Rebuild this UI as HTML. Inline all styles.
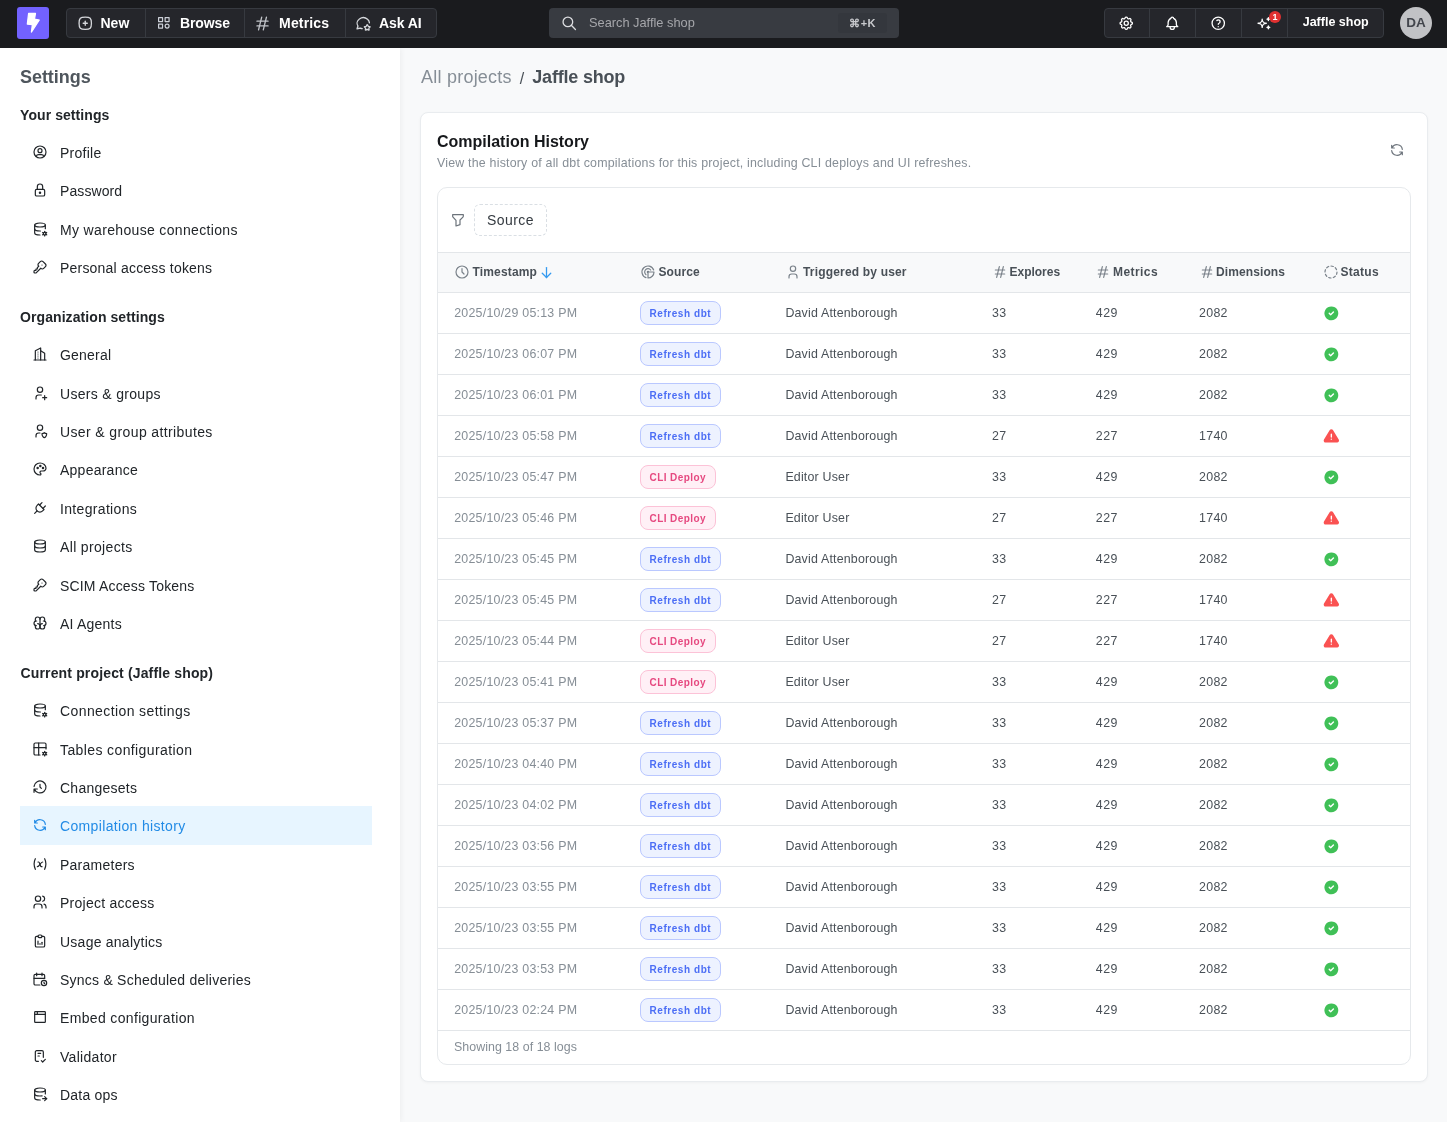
<!DOCTYPE html>
<html lang="en"><head><meta charset="utf-8"><title>Compilation history - Lightdash</title>
<style>
*{box-sizing:border-box;margin:0;padding:0}
html,body{width:1447px;height:1122px;overflow:hidden;background:#f8f9fa;font-family:"Liberation Sans",sans-serif;color:#212529}
svg{display:block}
/* NAV */
#nav{will-change:transform;position:absolute;left:0;top:0;width:1447px;height:48px;background:#1a1b1e;z-index:5}
#nav .logo{position:absolute;left:17px;top:7px;width:32px;height:32px;border-radius:3px;background:#7262ff}
#nav .grp{position:absolute;top:8px;height:30px;display:flex;border:1px solid #373a40;border-radius:4px;background:#25262b;overflow:hidden}
#nav .nb{position:relative;height:28px;border-right:1px solid #373a40;flex:none}
#nav .nb.last{border-right:0}
#nav .nb.ctr{display:flex;align-items:center;justify-content:center}
#nav .nb .ic{position:absolute;top:6px}
#nav .nb .t{position:absolute;top:0;line-height:28px;font-size:14px;font-weight:700;color:#fff;white-space:nowrap}
#nav .nb .t.js{font-size:12.5px;top:-1px}
#nav .dot{position:absolute;left:26.5px;top:1.5px;width:12px;height:12px;border-radius:6px;background:#e03131;color:#fff;font-size:9px;font-weight:700;line-height:12px;text-align:center}
#nav .search{position:absolute;left:549px;top:8px;width:350px;height:30px;border-radius:4px;background:#383b41}
#nav .search .sic{position:absolute;left:12px;top:7px}
#nav .search .st{position:absolute;left:40px;top:0;line-height:29px;font-size:12.8px;color:#a6a7ab;white-space:nowrap}
#nav .search .kbd{position:absolute;left:289px;top:5px;width:49px;height:20px;border-radius:3px;background:#34373d;color:#c9cace;font-size:11px;font-weight:700;line-height:20px;text-align:center;letter-spacing:.3px}
#nav .avatar{position:absolute;left:1400px;top:7px;width:32px;height:32px;border-radius:16px;background:#c1c2c5;color:#43464d;font-size:13.5px;font-weight:700;line-height:32px;text-align:center;letter-spacing:0}
/* SIDEBAR */
#side{will-change:transform;position:absolute;left:0;top:48px;width:400px;height:1074px;background:#fff;box-shadow:1px 0 6px rgba(0,0,0,.05);z-index:2}
#side .stitle{position:absolute;left:20px;top:18px;font-size:18px;font-weight:700;color:#4f565d;line-height:22px;letter-spacing:-.05px}
#side .sec{position:absolute;left:20px;font-size:14px;font-weight:700;color:#212529;line-height:38px;height:38px;white-space:nowrap;letter-spacing:.08px;margin-top:-48px}
#side .items{position:absolute;left:20px;width:352px;margin-top:-48px}
#side .it{position:relative;height:38.4px;color:#212529}
#side .it .ic{position:absolute;left:12px;top:10px}
#side .it .lb{position:absolute;left:40px;top:0;line-height:38.4px;font-size:14px;white-space:nowrap;letter-spacing:.2px}
#side .it.act{color:#228be6}
#side .actbg{position:absolute;left:20px;top:758px;width:352px;height:39px;background:#e7f5ff}
/* MAIN */
#main{will-change:transform;position:absolute;left:400px;top:48px;width:1047px;height:1074px;background:#f8f9fa}
#main .crumb{position:absolute;left:21px;top:17px;height:24px;line-height:24px;font-size:18px;white-space:nowrap}
#main .crumb .c1{color:#868e96;letter-spacing:.23px}
#main .crumb .sl{color:#495057;font-size:16px;margin:0 8px 0 8px;position:relative;top:1px}
#main .crumb .c2{color:#495057;font-weight:700;letter-spacing:-.19px}
#main .card{position:absolute;left:20px;top:64px;width:1008px;height:970px;background:#fff;border:1px solid #e9ecef;border-radius:8px;box-shadow:0 1px 3px rgba(0,0,0,.04)}
#main .ctitle{position:absolute;left:16px;top:18px;font-size:16px;font-weight:700;color:#16181b;line-height:22px;white-space:nowrap}
#main .csub{position:absolute;left:16px;top:42px;font-size:12.4px;color:#868e96;line-height:16px;white-space:nowrap;letter-spacing:.205px}
#main .rfr{position:absolute;left:968px;top:29px}
#main .tbl{position:absolute;left:16px;top:74px;width:974px;height:878px;border:1px solid #e6e9ec;border-radius:10px;overflow:hidden;background:#fff}
#main .frow{position:relative;height:64px}
#main .frow .fic{position:absolute;left:12px;top:24px}
#main .frow .fbtn{position:absolute;left:36px;top:16px;width:73px;height:32px;border:1px dashed #dadfe4;border-radius:6px;font-size:14px;line-height:30px;text-align:center;color:#343a40;letter-spacing:.45px}
#main .th{position:relative;height:41px;background:#f8f9fa;border-top:1px solid #e3e6e9;border-bottom:1px solid #e3e6e9}
#main .th .hi{position:absolute;top:11px}
#main .th .hl{position:absolute;top:0;line-height:39px;font-size:12px;font-weight:700;color:#495057;white-space:nowrap}
#main .th .arr{position:absolute;top:11px}
#main .tr{position:relative;height:41px;border-bottom:1px solid #e3e6e9}
#main .tr .c{position:absolute;top:0;height:40px;line-height:40px;font-size:12.4px;white-space:nowrap;color:#495057}
#main .tr .c1{left:16.2px;color:#868e96;letter-spacing:.24px}
#main .tr .c2{left:202px}
#main .tr .c3{left:347.4px;letter-spacing:.19px}
#main .tr .c4{left:554px;letter-spacing:.3px}
#main .tr .c5{left:657.8px;letter-spacing:.5px}
#main .tr .c6{left:761px;letter-spacing:.3px}
#main .tr .c7{left:884.6px;display:flex;align-items:center;height:40.6px}
#main .bd{display:inline-block;vertical-align:middle;height:24px;line-height:24px;padding:0 0 0 8.5px;border-radius:8px;font-size:10px;font-weight:700;letter-spacing:.56px;border:1px solid;position:relative;top:-.5px;white-space:nowrap}
#main .bd.br{background:#edf2ff;border-color:#bac8ff;color:#4c6ef5;width:81px}
#main .bd.bc{background:#fff0f6;border-color:#fcc2d7;color:#e64980;letter-spacing:.42px;width:76px}
#main .tf{height:34px;line-height:33px;padding-left:16px;font-size:12.4px;color:#868e96;letter-spacing:.05px}

</style></head>
<body>

<div id="nav">
  <div class="logo"><svg width="32" height="32" viewBox="0 0 32 32"><path d="M11.6 6.4L18.5 6.4L17.5 12.1L22.3 13L14.4 25.1L15.3 17.7L10.3 17.1Z" fill="#fff" stroke="#fff" stroke-width="1.2" stroke-linejoin="round"/></svg></div>
  <div class="grp" style="left:66px;width:371px">
    <div class="nb" style="width:78.5px"><span class="ic" style="left:9.5px"><svg width="16.5" height="16.5" viewBox="0 0 24 24" fill="none" stroke="#d5d7db" stroke-width="1.9" stroke-linecap="round" stroke-linejoin="round" ><path d="M12 3c7.2 0 9 1.8 9 9s-1.8 9 -9 9s-9 -1.8 -9 -9s1.8 -9 9 -9z"/><path d="M15 12h-6"/><path d="M12 9v6"/></svg></span><span class="t" style="left:33.5px">New</span></div>
    <div class="nb" style="width:99px"><span class="ic" style="left:10.6px;top:6.1px"><svg width="15.7" height="15.7" viewBox="0 0 24 24" fill="none" stroke="#ccd0d8" stroke-width="1.85" stroke-linecap="round" stroke-linejoin="round" ><path d="M4 4h6v6h-6z"/><path d="M14 4h6v6h-6z"/><path d="M4 14h6v6h-6z"/><path d="M17 17m-3 0a3 3 0 1 0 6 0a3 3 0 1 0 -6 0"/></svg></span><span class="t" style="left:34.5px;letter-spacing:-.12px">Browse</span></div>
    <div class="nb" style="width:101.5px"><span class="ic" style="left:8.5px;top:4.5px"><svg width="19" height="19" viewBox="0 0 24 24" fill="none" stroke="#c1c4c9" stroke-width="1.7" stroke-linecap="round" stroke-linejoin="round" ><path d="M5 9l14 0"/><path d="M5 15l14 0"/><path d="M11 4l-4 16"/><path d="M17 4l-4 16"/></svg></span><span class="t" style="left:34.6px;letter-spacing:.15px">Metrics</span></div>
    <div class="nb last" style="width:92px"><span class="ic" style="left:8.7px"><svg width="16.5" height="16.5" viewBox="0 0 24 24" fill="none" stroke="#d5d7db" stroke-width="1.9" stroke-linecap="round" stroke-linejoin="round" ><path d="M10.517 19.869a9.757 9.757 0 0 1 -2.817 -.869l-4.7 1l1.3 -3.9c-2.324 -3.437 -1.426 -7.872 2.1 -10.374c3.526 -2.501 8.59 -2.296 11.845 .48c1.666 1.421 2.594 3.29 2.747 5.21"/><path d="M17.8 20.817l-2.172 1.138a.392 .392 0 0 1 -.568 -.41l.415 -2.411l-1.757 -1.707a.389 .389 0 0 1 .217 -.665l2.428 -.352l1.086 -2.193a.392 .392 0 0 1 .702 0l1.086 2.193l2.428 .352a.39 .39 0 0 1 .217 .665l-1.757 1.707l.414 2.41a.39 .39 0 0 1 -.567 .411l-2.172 -1.138z"/></svg></span><span class="t" style="left:33px;letter-spacing:-.1px">Ask AI</span></div>
  </div>
  <div class="search"><span class="sic"><svg width="16.5" height="16.5" viewBox="0 0 24 24" fill="none" stroke="#dcdde0" stroke-width="1.9" stroke-linecap="round" stroke-linejoin="round" ><path d="M10 10m-7 0a7 7 0 1 0 14 0a7 7 0 1 0 -14 0"/><path d="M21 21l-6 -6"/></svg></span><span class="st">Search Jaffle shop</span><span class="kbd">&#8984;+K</span></div>
  <div class="grp" style="left:1104px;width:280px">
    <div class="nb ctr" style="width:45.4px;padding-right:1.5px"><svg width="16.5" height="16.5" viewBox="0 0 24 24" fill="none" stroke="#fff" stroke-width="1.9" stroke-linecap="round" stroke-linejoin="round" ><path d="M10.325 4.317c.426 -1.756 2.924 -1.756 3.35 0a1.724 1.724 0 0 0 2.573 1.066c1.543 -.94 3.31 .826 2.37 2.37a1.724 1.724 0 0 0 1.065 2.572c1.756 .426 1.756 2.924 0 3.35a1.724 1.724 0 0 0 -1.066 2.573c.94 1.543 -.826 3.31 -2.37 2.37a1.724 1.724 0 0 0 -2.572 1.065c-.426 1.756 -2.924 1.756 -3.35 0a1.724 1.724 0 0 0 -2.573 -1.066c-1.543 .94 -3.31 -.826 -2.37 -2.37a1.724 1.724 0 0 0 -1.065 -2.572c-1.756 -.426 -1.756 -2.924 0 -3.35a1.724 1.724 0 0 0 1.066 -2.573c-.94 -1.543 .826 -3.31 2.37 -2.37c1 .608 2.296 .07 2.572 -1.065z"/><path d="M9 12a3 3 0 1 0 6 0a3 3 0 0 0 -6 0"/></svg></div>
    <div class="nb ctr" style="width:46px;padding-right:1.5px"><svg width="16.5" height="16.5" viewBox="0 0 24 24" fill="none" stroke="#fff" stroke-width="1.9" stroke-linecap="round" stroke-linejoin="round" ><path d="M10 5a2 2 0 1 1 4 0a7 7 0 0 1 4 6v3a4 4 0 0 0 2 3h-16a4 4 0 0 0 2 -3v-3a7 7 0 0 1 4 -6"/><path d="M9 17v1a3 3 0 0 0 6 0v-1"/></svg></div>
    <div class="nb ctr" style="width:46px;padding-right:1.5px"><svg width="16.5" height="16.5" viewBox="0 0 24 24" fill="none" stroke="#fff" stroke-width="1.9" stroke-linecap="round" stroke-linejoin="round" ><path d="M12 12m-9 0a9 9 0 1 0 18 0a9 9 0 1 0 -18 0"/><path d="M12 17l0 .01"/><path d="M12 13.5a1.5 1.5 0 0 1 1 -1.5a2.6 2.6 0 1 0 -3 -4"/></svg></div>
    <div class="nb ctr" style="width:46px;padding-right:1.5px"><svg width="16.5" height="16.5" viewBox="0 0 24 24" fill="none" stroke="#fff" stroke-width="1.9" stroke-linecap="round" stroke-linejoin="round" ><path d="M16 18a2 2 0 0 1 2 2a2 2 0 0 1 2 -2a2 2 0 0 1 -2 -2a2 2 0 0 1 -2 2zm0 -12a2 2 0 0 1 2 2a2 2 0 0 1 2 -2a2 2 0 0 1 -2 -2a2 2 0 0 1 -2 2zm-7 12a6 6 0 0 1 6 -6a6 6 0 0 1 -6 -6a6 6 0 0 1 -6 6a6 6 0 0 1 6 6z"/></svg><span class="dot">1</span></div>
    <div class="nb last" style="width:96px"><span class="t js" style="left:14.3px">Jaffle shop</span></div>
  </div>
  <div class="avatar">DA</div>
</div>


<div id="side">
  <div class="stitle">Settings</div>
  <div class="sec" style="top:96px">Your settings</div>
  <div class="items" style="top:134px">
    <div class="it"><span class="ic"><svg width="16" height="16" viewBox="0 0 24 24" fill="none" stroke="currentColor" stroke-width="1.8" stroke-linecap="round" stroke-linejoin="round" ><path d="M12 12m-9 0a9 9 0 1 0 18 0a9 9 0 1 0 -18 0"/><path d="M12 10m-3 0a3 3 0 1 0 6 0a3 3 0 1 0 -6 0"/><path d="M6.168 18.849a4 4 0 0 1 3.832 -2.849h4a4 4 0 0 1 3.834 2.855"/></svg></span><span class="lb" style="letter-spacing:0.267px">Profile</span></div>
    <div class="it"><span class="ic"><svg width="16" height="16" viewBox="0 0 24 24" fill="none" stroke="currentColor" stroke-width="1.8" stroke-linecap="round" stroke-linejoin="round" ><path d="M5 13a2 2 0 0 1 2 -2h10a2 2 0 0 1 2 2v6a2 2 0 0 1 -2 2h-10a2 2 0 0 1 -2 -2v-6z"/><path d="M11 16a1 1 0 1 0 2 0a1 1 0 0 0 -2 0"/><path d="M8 11v-4a4 4 0 1 1 8 0v4"/></svg></span><span class="lb" style="letter-spacing:0.086px">Password</span></div>
    <div class="it"><span class="ic"><svg width="16" height="16" viewBox="0 0 24 24" fill="none" stroke="currentColor" stroke-width="1.8" stroke-linecap="round" stroke-linejoin="round" ><path d="M4 6c0 1.657 3.582 3 8 3s8 -1.343 8 -3s-3.582 -3 -8 -3s-8 1.343 -8 3"/><path d="M4 6v6c0 1.657 3.582 3 8 3c.21 0 .42 -.003 .626 -.01"/><path d="M20 11.5v-5.5"/><path d="M4 12v6c0 1.657 3.582 3 8 3"/><path d="M19.001 19m-2 0a2 2 0 1 0 4 0a2 2 0 1 0 -4 0"/><path d="M19.001 15.5v1.5"/><path d="M19.001 21v1.5"/><path d="M22.032 17.25l-1.299 .75"/><path d="M17.27 20l-1.3 .75"/><path d="M15.97 17.25l1.3 .75"/><path d="M20.733 20l1.3 .75"/></svg></span><span class="lb" style="letter-spacing:0.339px">My warehouse connections</span></div>
    <div class="it"><span class="ic"><svg width="16" height="16" viewBox="0 0 24 24" fill="none" stroke="currentColor" stroke-width="1.8" stroke-linecap="round" stroke-linejoin="round" ><path d="M16.555 3.843l3.602 3.602a2.877 2.877 0 0 1 0 4.069l-2.643 2.643a2.877 2.877 0 0 1 -4.069 0l-.301 -.301l-6.558 6.558a2 2 0 0 1 -1.239 .578l-.175 .008h-1.172a1 1 0 0 1 -.993 -.883l-.007 -.117v-1.172a2 2 0 0 1 .467 -1.284l.119 -.13l.414 -.414h2v-2h2v-2l2.144 -2.144l-.301 -.301a2.877 2.877 0 0 1 0 -4.069l2.643 -2.643a2.877 2.877 0 0 1 4.069 0z"/><path d="M15 9h.01"/></svg></span><span class="lb" style="letter-spacing:0.2px">Personal access tokens</span></div>
  </div>
  <div class="sec" style="top:298px">Organization settings</div>
  <div class="items" style="top:336.2px">
    <div class="it"><span class="ic"><svg width="16" height="16" viewBox="0 0 24 24" fill="none" stroke="currentColor" stroke-width="1.8" stroke-linecap="round" stroke-linejoin="round" ><path d="M3 21l18 0"/><path d="M5 21v-14l8 -4v18"/><path d="M19 21v-10l-6 -4"/><path d="M9 9l0 .01"/><path d="M9 12l0 .01"/><path d="M9 15l0 .01"/><path d="M9 18l0 .01"/></svg></span><span class="lb" style="letter-spacing:0.2px">General</span></div>
    <div class="it"><span class="ic"><svg width="16" height="16" viewBox="0 0 24 24" fill="none" stroke="currentColor" stroke-width="1.8" stroke-linecap="round" stroke-linejoin="round" ><path d="M8 7a4 4 0 1 0 8 0a4 4 0 0 0 -8 0"/><path d="M16 19h6"/><path d="M19 16v6"/><path d="M6 21v-2a4 4 0 0 1 4 -4h4"/></svg></span><span class="lb" style="letter-spacing:0.308px">Users &amp; groups</span></div>
    <div class="it"><span class="ic"><svg width="16" height="16" viewBox="0 0 24 24" fill="none" stroke="currentColor" stroke-width="1.8" stroke-linecap="round" stroke-linejoin="round" ><path d="M6 21v-2a4 4 0 0 1 4 -4h2"/><path d="M22 16c0 4 -2.5 6 -3.5 6s-3.5 -2 -3.5 -6c1 0 2.5 -.5 3.5 -1.5c1 1 2.5 1.5 3.5 1.5z"/><path d="M8 7a4 4 0 1 0 8 0a4 4 0 0 0 -8 0"/></svg></span><span class="lb" style="letter-spacing:0.382px">User &amp; group attributes</span></div>
    <div class="it"><span class="ic"><svg width="16" height="16" viewBox="0 0 24 24" fill="none" stroke="currentColor" stroke-width="1.8" stroke-linecap="round" stroke-linejoin="round" ><path d="M12 21a9 9 0 0 1 0 -18c4.97 0 9 3.582 9 8c0 1.06 -.474 2.078 -1.318 2.828c-.844 .75 -1.989 1.172 -3.182 1.172h-2.5a2 2 0 0 0 -1 3.75a1.3 1.3 0 0 1 -1 2.25"/><path d="M8.5 10.5m-1 0a1 1 0 1 0 2 0a1 1 0 1 0 -2 0"/><path d="M12.5 7.5m-1 0a1 1 0 1 0 2 0a1 1 0 1 0 -2 0"/><path d="M16.5 10.5m-1 0a1 1 0 1 0 2 0a1 1 0 1 0 -2 0"/></svg></span><span class="lb" style="letter-spacing:0.245px">Appearance</span></div>
    <div class="it"><span class="ic"><svg width="16" height="16" viewBox="0 0 24 24" fill="none" stroke="currentColor" stroke-width="1.8" stroke-linecap="round" stroke-linejoin="round" ><path d="M9.785 6l8.215 8.215l-2.054 2.054a5.81 5.81 0 1 1 -8.215 -8.215l2.054 -2.054z"/><path d="M4 20l3.5 -3.5"/><path d="M15 4l-3.5 3.5"/><path d="M20 9l-3.5 3.5"/></svg></span><span class="lb" style="letter-spacing:0.328px">Integrations</span></div>
    <div class="it"><span class="ic"><svg width="16" height="16" viewBox="0 0 24 24" fill="none" stroke="currentColor" stroke-width="1.8" stroke-linecap="round" stroke-linejoin="round" ><path d="M12 6m-8 0a8 3 0 1 0 16 0a8 3 0 1 0 -16 0"/><path d="M4 6v6a8 3 0 0 0 16 0v-6"/><path d="M4 12v6a8 3 0 0 0 16 0v-6"/></svg></span><span class="lb" style="letter-spacing:0.345px">All projects</span></div>
    <div class="it"><span class="ic"><svg width="16" height="16" viewBox="0 0 24 24" fill="none" stroke="currentColor" stroke-width="1.8" stroke-linecap="round" stroke-linejoin="round" ><path d="M16.555 3.843l3.602 3.602a2.877 2.877 0 0 1 0 4.069l-2.643 2.643a2.877 2.877 0 0 1 -4.069 0l-.301 -.301l-6.558 6.558a2 2 0 0 1 -1.239 .578l-.175 .008h-1.172a1 1 0 0 1 -.993 -.883l-.007 -.117v-1.172a2 2 0 0 1 .467 -1.284l.119 -.13l.414 -.414h2v-2h2v-2l2.144 -2.144l-.301 -.301a2.877 2.877 0 0 1 0 -4.069l2.643 -2.643a2.877 2.877 0 0 1 4.069 0z"/><path d="M15 9h.01"/></svg></span><span class="lb" style="letter-spacing:0.176px">SCIM Access Tokens</span></div>
    <div class="it"><span class="ic"><svg width="16" height="16" viewBox="0 0 24 24" fill="none" stroke="currentColor" stroke-width="1.8" stroke-linecap="round" stroke-linejoin="round" ><path d="M15.5 13a3.5 3.5 0 0 0 -3.5 3.5v1a3.5 3.5 0 0 0 7 0v-1.8"/><path d="M8.5 13a3.5 3.5 0 0 1 3.5 3.5v1a3.5 3.5 0 0 1 -7 0v-1.8"/><path d="M17.5 16a3.5 3.5 0 0 0 0 -7h-.5"/><path d="M19 9.3v-2.8a3.5 3.5 0 0 0 -7 0"/><path d="M6.5 16a3.5 3.5 0 0 1 0 -7h.5"/><path d="M5 9.3v-2.8a3.5 3.5 0 0 1 7 0v10"/></svg></span><span class="lb" style="letter-spacing:0.225px">AI Agents</span></div>
  </div>
  <div class="sec" style="top:654px;left:20.5px;letter-spacing:.15px">Current project (Jaffle shop)</div>
  <div class="actbg"></div>
  <div class="items" style="top:692.2px">
    <div class="it"><span class="ic"><svg width="16" height="16" viewBox="0 0 24 24" fill="none" stroke="currentColor" stroke-width="1.8" stroke-linecap="round" stroke-linejoin="round" ><path d="M4 6c0 1.657 3.582 3 8 3s8 -1.343 8 -3s-3.582 -3 -8 -3s-8 1.343 -8 3"/><path d="M4 6v6c0 1.657 3.582 3 8 3c.21 0 .42 -.003 .626 -.01"/><path d="M20 11.5v-5.5"/><path d="M4 12v6c0 1.657 3.582 3 8 3"/><path d="M19.001 19m-2 0a2 2 0 1 0 4 0a2 2 0 1 0 -4 0"/><path d="M19.001 15.5v1.5"/><path d="M19.001 21v1.5"/><path d="M22.032 17.25l-1.299 .75"/><path d="M17.27 20l-1.3 .75"/><path d="M15.97 17.25l1.3 .75"/><path d="M20.733 20l1.3 .75"/></svg></span><span class="lb" style="letter-spacing:0.4px">Connection settings</span></div>
    <div class="it"><span class="ic"><svg width="16" height="16" viewBox="0 0 24 24" fill="none" stroke="currentColor" stroke-width="1.8" stroke-linecap="round" stroke-linejoin="round" ><path d="M12 21h-7a2 2 0 0 1 -2 -2v-14a2 2 0 0 1 2 -2h14a2 2 0 0 1 2 2v7"/><path d="M3 10h18"/><path d="M10 3v18"/><path d="M19.001 19m-2 0a2 2 0 1 0 4 0a2 2 0 1 0 -4 0"/><path d="M19.001 15.5v1.5"/><path d="M19.001 21v1.5"/><path d="M22.032 17.25l-1.299 .75"/><path d="M17.27 20l-1.3 .75"/><path d="M15.97 17.25l1.3 .75"/><path d="M20.733 20l1.3 .75"/></svg></span><span class="lb" style="letter-spacing:0.389px">Tables configuration</span></div>
    <div class="it"><span class="ic"><svg width="16" height="16" viewBox="0 0 24 24" fill="none" stroke="currentColor" stroke-width="1.8" stroke-linecap="round" stroke-linejoin="round" ><path d="M12 8l0 4l2 2"/><path d="M3.05 11a9 9 0 1 1 .5 4m-.5 5v-5h5"/></svg></span><span class="lb" style="letter-spacing:0.245px">Changesets</span></div>
    <div class="it act"><span class="ic"><svg width="16" height="16" viewBox="0 0 24 24" fill="none" stroke="currentColor" stroke-width="1.8" stroke-linecap="round" stroke-linejoin="round" ><path d="M20 11a8.1 8.1 0 0 0 -15.5 -2m-.5 -4v4h4"/><path d="M4 13a8.1 8.1 0 0 0 15.5 2m.5 4v-4h-4"/></svg></span><span class="lb" style="letter-spacing:0.344px">Compilation history</span></div>
    <div class="it"><span class="ic"><svg width="16" height="16" viewBox="0 0 24 24" fill="none" stroke="currentColor" stroke-width="1.8" stroke-linecap="round" stroke-linejoin="round" ><path d="M5 4c-2.5 5 -2.5 10 0 16m14 -16c2.5 5 2.5 10 0 16m-10 -11h1c1 0 1 1 2.016 3.527c.984 2.473 .984 3.473 1.984 3.473h1"/><path d="M8 16c1.5 0 3 -2 4 -3.5s2.5 -3.5 4 -3.5"/></svg></span><span class="lb" style="letter-spacing:0.245px">Parameters</span></div>
    <div class="it"><span class="ic"><svg width="16" height="16" viewBox="0 0 24 24" fill="none" stroke="currentColor" stroke-width="1.8" stroke-linecap="round" stroke-linejoin="round" ><path d="M9 7m-4 0a4 4 0 1 0 8 0a4 4 0 1 0 -8 0"/><path d="M3 21v-2a4 4 0 0 1 4 -4h4a4 4 0 0 1 4 4v2"/><path d="M16 3.13a4 4 0 0 1 0 7.75"/><path d="M21 21v-2a4 4 0 0 0 -3 -3.85"/></svg></span><span class="lb" style="letter-spacing:0.246px">Project access</span></div>
    <div class="it"><span class="ic"><svg width="16" height="16" viewBox="0 0 24 24" fill="none" stroke="currentColor" stroke-width="1.8" stroke-linecap="round" stroke-linejoin="round" ><path d="M9 5h-2a2 2 0 0 0 -2 2v12a2 2 0 0 0 2 2h10a2 2 0 0 0 2 -2v-12a2 2 0 0 0 -2 -2h-2"/><path d="M9 3m0 2a2 2 0 0 1 2 -2h2a2 2 0 0 1 2 2v0a2 2 0 0 1 -2 2h-2a2 2 0 0 1 -2 -2z"/><path d="M9 17v-5"/><path d="M12 17v-1"/><path d="M15 17v-3"/></svg></span><span class="lb" style="letter-spacing:0.243px">Usage analytics</span></div>
    <div class="it"><span class="ic"><svg width="16" height="16" viewBox="0 0 24 24" fill="none" stroke="currentColor" stroke-width="1.8" stroke-linecap="round" stroke-linejoin="round" ><path d="M11.795 21h-6.795a2 2 0 0 1 -2 -2v-12a2 2 0 0 1 2 -2h12a2 2 0 0 1 2 2v4"/><path d="M18 18m-4 0a4 4 0 1 0 8 0a4 4 0 1 0 -8 0"/><path d="M15 3v4"/><path d="M7 3v4"/><path d="M3 11h16"/><path d="M18 16.496v1.504l1 1"/></svg></span><span class="lb" style="letter-spacing:0.23px">Syncs &amp; Scheduled deliveries</span></div>
    <div class="it"><span class="ic"><svg width="16" height="16" viewBox="0 0 24 24" fill="none" stroke="currentColor" stroke-width="1.8" stroke-linecap="round" stroke-linejoin="round" ><path d="M4 4m0 1a1 1 0 0 1 1 -1h14a1 1 0 0 1 1 1v14a1 1 0 0 1 -1 1h-14a1 1 0 0 1 -1 -1z"/><path d="M4 8l16 0"/><path d="M8 4l0 4"/></svg></span><span class="lb" style="letter-spacing:0.344px">Embed configuration</span></div>
    <div class="it"><span class="ic"><svg width="16" height="16" viewBox="0 0 24 24" fill="none" stroke="currentColor" stroke-width="1.8" stroke-linecap="round" stroke-linejoin="round" ><path d="M9.615 20h-2.615a2 2 0 0 1 -2 -2v-12a2 2 0 0 1 2 -2h8a2 2 0 0 1 2 2v8"/><path d="M14 19l2 2l4 -4"/><path d="M9 8h4"/><path d="M9 12h2"/></svg></span><span class="lb" style="letter-spacing:0.299px">Validator</span></div>
    <div class="it"><span class="ic"><svg width="16" height="16" viewBox="0 0 24 24" fill="none" stroke="currentColor" stroke-width="1.8" stroke-linecap="round" stroke-linejoin="round" ><path d="M4 6c0 1.657 3.582 3 8 3s8 -1.343 8 -3s-3.582 -3 -8 -3s-8 1.343 -8 3"/><path d="M4 6v6c0 1.657 3.582 3 8 3c1.118 0 2.183 -.086 3.15 -.241"/><path d="M20 12v-6"/><path d="M4 12v6c0 1.657 3.582 3 8 3c.157 0 .312 -.002 .466 -.005"/><path d="M16 19h6"/><path d="M19 16l3 3l-3 3"/></svg></span><span class="lb" style="letter-spacing:0.2px">Data ops</span></div>
  </div>
</div>


<div id="main">
  <div class="crumb"><span class="c1">All projects</span><span class="sl">/</span><span class="c2">Jaffle shop</span></div>
  <div class="card">
    <div class="ctitle">Compilation History</div>
    <div class="csub">View the history of all dbt compilations for this project, including CLI deploys and UI refreshes.</div>
    <div class="rfr"><svg width="16" height="16" viewBox="0 0 24 24" fill="none" stroke="#6f767e" stroke-width="1.8" stroke-linecap="round" stroke-linejoin="round" ><path d="M20 11a8.1 8.1 0 0 0 -15.5 -2m-.5 -4v4h4"/><path d="M4 13a8.1 8.1 0 0 0 15.5 2m.5 4v-4h-4"/></svg></div>
    <div class="tbl">
      <div class="frow"><span class="fic"><svg width="16" height="16" viewBox="0 0 24 24" fill="none" stroke="#6c737b" stroke-width="1.8" stroke-linecap="round" stroke-linejoin="round" ><path d="M4 4h16v2.172a2 2 0 0 1 -.586 1.414l-4.414 4.414v7l-6 2v-8.5l-4.48 -4.928a2 2 0 0 1 -.52 -1.345v-2.227z"/></svg></span><span class="fbtn">Source</span></div>
      <div class="th">
        <span class="hi" style="left:16.0px"><svg width="16" height="16" viewBox="0 0 24 24" fill="none" stroke="#7a828a" stroke-width="1.8" stroke-linecap="round" stroke-linejoin="round" ><path d="M3 12a9 9 0 1 0 18 0a9 9 0 0 0 -18 0"/><path d="M12 7v5l3 3"/></svg></span><b class="hl" style="left:34.5px;letter-spacing:0.16px">Timestamp</b><span class="arr" style="left:100.29999999999995px"><svg width="17" height="17" viewBox="0 0 24 24" fill="none" stroke="#339af0" stroke-width="1.8" stroke-linecap="round" stroke-linejoin="round" ><path d="M12 5l0 14"/><path d="M18 13l-6 6"/><path d="M6 13l6 6"/></svg></span><span class="hi" style="left:202.0px"><svg width="16" height="16" viewBox="0 0 24 24" fill="none" stroke="#7a828a" stroke-width="1.8" stroke-linecap="round" stroke-linejoin="round" ><path d="M21 12h-8a1 1 0 1 0 -1 1v8a9 9 0 0 0 9 -9"/><path d="M16 9a5 5 0 1 0 -7 7"/><path d="M20.486 9a9 9 0 1 0 -11.482 11.495"/></svg></span><b class="hl" style="left:220.5px;letter-spacing:0.1px">Source</b><span class="hi" style="left:347.0px"><svg width="16" height="16" viewBox="0 0 24 24" fill="none" stroke="#7a828a" stroke-width="1.8" stroke-linecap="round" stroke-linejoin="round" ><path d="M8 7a4 4 0 1 0 8 0a4 4 0 0 0 -8 0"/><path d="M6 21v-2a4 4 0 0 1 4 -4h4a4 4 0 0 1 4 4v2"/></svg></span><b class="hl" style="left:365.0px;letter-spacing:0.175px">Triggered by user</b><span class="hi" style="left:554.0px"><svg width="16" height="16" viewBox="0 0 24 24" fill="none" stroke="#7a828a" stroke-width="1.8" stroke-linecap="round" stroke-linejoin="round" ><path d="M5 9l14 0"/><path d="M5 15l14 0"/><path d="M11 4l-4 16"/><path d="M17 4l-4 16"/></svg></span><b class="hl" style="left:571.5px;letter-spacing:-0.01px">Explores</b><span class="hi" style="left:657.0px"><svg width="16" height="16" viewBox="0 0 24 24" fill="none" stroke="#7a828a" stroke-width="1.8" stroke-linecap="round" stroke-linejoin="round" ><path d="M5 9l14 0"/><path d="M5 15l14 0"/><path d="M11 4l-4 16"/><path d="M17 4l-4 16"/></svg></span><b class="hl" style="left:675.0px;letter-spacing:0.43px">Metrics</b><span class="hi" style="left:760.5px"><svg width="16" height="16" viewBox="0 0 24 24" fill="none" stroke="#7a828a" stroke-width="1.8" stroke-linecap="round" stroke-linejoin="round" ><path d="M5 9l14 0"/><path d="M5 15l14 0"/><path d="M11 4l-4 16"/><path d="M17 4l-4 16"/></svg></span><b class="hl" style="left:778.0px;letter-spacing:0.1px">Dimensions</b><span class="hi" style="left:885.0px"><svg width="16" height="16" viewBox="0 0 24 24" fill="none" stroke="#7a828a" stroke-width="1.8" stroke-linecap="round" stroke-linejoin="round" ><path d="M8.56 3.69a9 9 0 0 0 -2.92 1.95"/><path d="M3.69 8.56a9 9 0 0 0 -.69 3.44"/><path d="M3.69 15.44a9 9 0 0 0 1.95 2.92"/><path d="M8.56 20.31a9 9 0 0 0 3.44 .69"/><path d="M15.44 20.31a9 9 0 0 0 2.92 -1.95"/><path d="M20.31 15.44a9 9 0 0 0 .69 -3.44"/><path d="M20.31 8.56a9 9 0 0 0 -1.95 -2.92"/><path d="M15.44 3.69a9 9 0 0 0 -3.44 -.69"/></svg></span><b class="hl" style="left:902.5px;letter-spacing:0.3px">Status</b>
      </div>
      <div class="tr"><span class="c c1">2025/10/29 05:13 PM</span><span class="c c2"><span class="bd br">Refresh dbt</span></span><span class="c c3">David Attenborough</span><span class="c c4">33</span><span class="c c5">429</span><span class="c c6">2082</span><span class="c c7"><svg width="16.7" height="16.7" viewBox="0 0 24 24" fill="#40c057" stroke="none"><path d="M17 3.34a10 10 0 1 1 -14.995 8.984l-.005 -.324l.005 -.324a10 10 0 0 1 14.995 -8.336zm-1.293 5.953a1 1 0 0 0 -1.32 -.083l-.094 .083l-3.293 3.292l-1.293 -1.292l-.094 -.083a1 1 0 0 0 -1.403 1.403l.083 .094l2 2l.094 .083a1 1 0 0 0 1.226 0l.094 -.083l4 -4l.083 -.094a1 1 0 0 0 -.083 -1.32z"/></svg></span></div><div class="tr"><span class="c c1">2025/10/23 06:07 PM</span><span class="c c2"><span class="bd br">Refresh dbt</span></span><span class="c c3">David Attenborough</span><span class="c c4">33</span><span class="c c5">429</span><span class="c c6">2082</span><span class="c c7"><svg width="16.7" height="16.7" viewBox="0 0 24 24" fill="#40c057" stroke="none"><path d="M17 3.34a10 10 0 1 1 -14.995 8.984l-.005 -.324l.005 -.324a10 10 0 0 1 14.995 -8.336zm-1.293 5.953a1 1 0 0 0 -1.32 -.083l-.094 .083l-3.293 3.292l-1.293 -1.292l-.094 -.083a1 1 0 0 0 -1.403 1.403l.083 .094l2 2l.094 .083a1 1 0 0 0 1.226 0l.094 -.083l4 -4l.083 -.094a1 1 0 0 0 -.083 -1.32z"/></svg></span></div><div class="tr"><span class="c c1">2025/10/23 06:01 PM</span><span class="c c2"><span class="bd br">Refresh dbt</span></span><span class="c c3">David Attenborough</span><span class="c c4">33</span><span class="c c5">429</span><span class="c c6">2082</span><span class="c c7"><svg width="16.7" height="16.7" viewBox="0 0 24 24" fill="#40c057" stroke="none"><path d="M17 3.34a10 10 0 1 1 -14.995 8.984l-.005 -.324l.005 -.324a10 10 0 0 1 14.995 -8.336zm-1.293 5.953a1 1 0 0 0 -1.32 -.083l-.094 .083l-3.293 3.292l-1.293 -1.292l-.094 -.083a1 1 0 0 0 -1.403 1.403l.083 .094l2 2l.094 .083a1 1 0 0 0 1.226 0l.094 -.083l4 -4l.083 -.094a1 1 0 0 0 -.083 -1.32z"/></svg></span></div><div class="tr"><span class="c c1">2025/10/23 05:58 PM</span><span class="c c2"><span class="bd br">Refresh dbt</span></span><span class="c c3">David Attenborough</span><span class="c c4">27</span><span class="c c5">227</span><span class="c c6">1740</span><span class="c c7"><svg width="16.7" height="16.7" viewBox="0 0 24 24" fill="#fa5252" stroke="none"><path d="M12 1.67c.955 0 1.845 .467 2.39 1.247l.105 .16l8.114 13.548a2.914 2.914 0 0 1 -2.307 4.363l-.195 .008h-16.225a2.914 2.914 0 0 1 -2.582 -4.2l.099 -.185l8.11 -13.538a2.914 2.914 0 0 1 2.491 -1.403zm.01 13.33l-.127 .007a1 1 0 0 0 0 1.986l.117 .007l.127 -.007a1 1 0 0 0 0 -1.986l-.117 -.007zm-.01 -7a1 1 0 0 0 -.993 .883l-.007 .117v4l.007 .117a1 1 0 0 0 1.986 0l.007 -.117v-4l-.007 -.117a1 1 0 0 0 -.993 -.883z"/></svg></span></div><div class="tr"><span class="c c1">2025/10/23 05:47 PM</span><span class="c c2"><span class="bd bc">CLI Deploy</span></span><span class="c c3">Editor User</span><span class="c c4">33</span><span class="c c5">429</span><span class="c c6">2082</span><span class="c c7"><svg width="16.7" height="16.7" viewBox="0 0 24 24" fill="#40c057" stroke="none"><path d="M17 3.34a10 10 0 1 1 -14.995 8.984l-.005 -.324l.005 -.324a10 10 0 0 1 14.995 -8.336zm-1.293 5.953a1 1 0 0 0 -1.32 -.083l-.094 .083l-3.293 3.292l-1.293 -1.292l-.094 -.083a1 1 0 0 0 -1.403 1.403l.083 .094l2 2l.094 .083a1 1 0 0 0 1.226 0l.094 -.083l4 -4l.083 -.094a1 1 0 0 0 -.083 -1.32z"/></svg></span></div><div class="tr"><span class="c c1">2025/10/23 05:46 PM</span><span class="c c2"><span class="bd bc">CLI Deploy</span></span><span class="c c3">Editor User</span><span class="c c4">27</span><span class="c c5">227</span><span class="c c6">1740</span><span class="c c7"><svg width="16.7" height="16.7" viewBox="0 0 24 24" fill="#fa5252" stroke="none"><path d="M12 1.67c.955 0 1.845 .467 2.39 1.247l.105 .16l8.114 13.548a2.914 2.914 0 0 1 -2.307 4.363l-.195 .008h-16.225a2.914 2.914 0 0 1 -2.582 -4.2l.099 -.185l8.11 -13.538a2.914 2.914 0 0 1 2.491 -1.403zm.01 13.33l-.127 .007a1 1 0 0 0 0 1.986l.117 .007l.127 -.007a1 1 0 0 0 0 -1.986l-.117 -.007zm-.01 -7a1 1 0 0 0 -.993 .883l-.007 .117v4l.007 .117a1 1 0 0 0 1.986 0l.007 -.117v-4l-.007 -.117a1 1 0 0 0 -.993 -.883z"/></svg></span></div><div class="tr"><span class="c c1">2025/10/23 05:45 PM</span><span class="c c2"><span class="bd br">Refresh dbt</span></span><span class="c c3">David Attenborough</span><span class="c c4">33</span><span class="c c5">429</span><span class="c c6">2082</span><span class="c c7"><svg width="16.7" height="16.7" viewBox="0 0 24 24" fill="#40c057" stroke="none"><path d="M17 3.34a10 10 0 1 1 -14.995 8.984l-.005 -.324l.005 -.324a10 10 0 0 1 14.995 -8.336zm-1.293 5.953a1 1 0 0 0 -1.32 -.083l-.094 .083l-3.293 3.292l-1.293 -1.292l-.094 -.083a1 1 0 0 0 -1.403 1.403l.083 .094l2 2l.094 .083a1 1 0 0 0 1.226 0l.094 -.083l4 -4l.083 -.094a1 1 0 0 0 -.083 -1.32z"/></svg></span></div><div class="tr"><span class="c c1">2025/10/23 05:45 PM</span><span class="c c2"><span class="bd br">Refresh dbt</span></span><span class="c c3">David Attenborough</span><span class="c c4">27</span><span class="c c5">227</span><span class="c c6">1740</span><span class="c c7"><svg width="16.7" height="16.7" viewBox="0 0 24 24" fill="#fa5252" stroke="none"><path d="M12 1.67c.955 0 1.845 .467 2.39 1.247l.105 .16l8.114 13.548a2.914 2.914 0 0 1 -2.307 4.363l-.195 .008h-16.225a2.914 2.914 0 0 1 -2.582 -4.2l.099 -.185l8.11 -13.538a2.914 2.914 0 0 1 2.491 -1.403zm.01 13.33l-.127 .007a1 1 0 0 0 0 1.986l.117 .007l.127 -.007a1 1 0 0 0 0 -1.986l-.117 -.007zm-.01 -7a1 1 0 0 0 -.993 .883l-.007 .117v4l.007 .117a1 1 0 0 0 1.986 0l.007 -.117v-4l-.007 -.117a1 1 0 0 0 -.993 -.883z"/></svg></span></div><div class="tr"><span class="c c1">2025/10/23 05:44 PM</span><span class="c c2"><span class="bd bc">CLI Deploy</span></span><span class="c c3">Editor User</span><span class="c c4">27</span><span class="c c5">227</span><span class="c c6">1740</span><span class="c c7"><svg width="16.7" height="16.7" viewBox="0 0 24 24" fill="#fa5252" stroke="none"><path d="M12 1.67c.955 0 1.845 .467 2.39 1.247l.105 .16l8.114 13.548a2.914 2.914 0 0 1 -2.307 4.363l-.195 .008h-16.225a2.914 2.914 0 0 1 -2.582 -4.2l.099 -.185l8.11 -13.538a2.914 2.914 0 0 1 2.491 -1.403zm.01 13.33l-.127 .007a1 1 0 0 0 0 1.986l.117 .007l.127 -.007a1 1 0 0 0 0 -1.986l-.117 -.007zm-.01 -7a1 1 0 0 0 -.993 .883l-.007 .117v4l.007 .117a1 1 0 0 0 1.986 0l.007 -.117v-4l-.007 -.117a1 1 0 0 0 -.993 -.883z"/></svg></span></div><div class="tr"><span class="c c1">2025/10/23 05:41 PM</span><span class="c c2"><span class="bd bc">CLI Deploy</span></span><span class="c c3">Editor User</span><span class="c c4">33</span><span class="c c5">429</span><span class="c c6">2082</span><span class="c c7"><svg width="16.7" height="16.7" viewBox="0 0 24 24" fill="#40c057" stroke="none"><path d="M17 3.34a10 10 0 1 1 -14.995 8.984l-.005 -.324l.005 -.324a10 10 0 0 1 14.995 -8.336zm-1.293 5.953a1 1 0 0 0 -1.32 -.083l-.094 .083l-3.293 3.292l-1.293 -1.292l-.094 -.083a1 1 0 0 0 -1.403 1.403l.083 .094l2 2l.094 .083a1 1 0 0 0 1.226 0l.094 -.083l4 -4l.083 -.094a1 1 0 0 0 -.083 -1.32z"/></svg></span></div><div class="tr"><span class="c c1">2025/10/23 05:37 PM</span><span class="c c2"><span class="bd br">Refresh dbt</span></span><span class="c c3">David Attenborough</span><span class="c c4">33</span><span class="c c5">429</span><span class="c c6">2082</span><span class="c c7"><svg width="16.7" height="16.7" viewBox="0 0 24 24" fill="#40c057" stroke="none"><path d="M17 3.34a10 10 0 1 1 -14.995 8.984l-.005 -.324l.005 -.324a10 10 0 0 1 14.995 -8.336zm-1.293 5.953a1 1 0 0 0 -1.32 -.083l-.094 .083l-3.293 3.292l-1.293 -1.292l-.094 -.083a1 1 0 0 0 -1.403 1.403l.083 .094l2 2l.094 .083a1 1 0 0 0 1.226 0l.094 -.083l4 -4l.083 -.094a1 1 0 0 0 -.083 -1.32z"/></svg></span></div><div class="tr"><span class="c c1">2025/10/23 04:40 PM</span><span class="c c2"><span class="bd br">Refresh dbt</span></span><span class="c c3">David Attenborough</span><span class="c c4">33</span><span class="c c5">429</span><span class="c c6">2082</span><span class="c c7"><svg width="16.7" height="16.7" viewBox="0 0 24 24" fill="#40c057" stroke="none"><path d="M17 3.34a10 10 0 1 1 -14.995 8.984l-.005 -.324l.005 -.324a10 10 0 0 1 14.995 -8.336zm-1.293 5.953a1 1 0 0 0 -1.32 -.083l-.094 .083l-3.293 3.292l-1.293 -1.292l-.094 -.083a1 1 0 0 0 -1.403 1.403l.083 .094l2 2l.094 .083a1 1 0 0 0 1.226 0l.094 -.083l4 -4l.083 -.094a1 1 0 0 0 -.083 -1.32z"/></svg></span></div><div class="tr"><span class="c c1">2025/10/23 04:02 PM</span><span class="c c2"><span class="bd br">Refresh dbt</span></span><span class="c c3">David Attenborough</span><span class="c c4">33</span><span class="c c5">429</span><span class="c c6">2082</span><span class="c c7"><svg width="16.7" height="16.7" viewBox="0 0 24 24" fill="#40c057" stroke="none"><path d="M17 3.34a10 10 0 1 1 -14.995 8.984l-.005 -.324l.005 -.324a10 10 0 0 1 14.995 -8.336zm-1.293 5.953a1 1 0 0 0 -1.32 -.083l-.094 .083l-3.293 3.292l-1.293 -1.292l-.094 -.083a1 1 0 0 0 -1.403 1.403l.083 .094l2 2l.094 .083a1 1 0 0 0 1.226 0l.094 -.083l4 -4l.083 -.094a1 1 0 0 0 -.083 -1.32z"/></svg></span></div><div class="tr"><span class="c c1">2025/10/23 03:56 PM</span><span class="c c2"><span class="bd br">Refresh dbt</span></span><span class="c c3">David Attenborough</span><span class="c c4">33</span><span class="c c5">429</span><span class="c c6">2082</span><span class="c c7"><svg width="16.7" height="16.7" viewBox="0 0 24 24" fill="#40c057" stroke="none"><path d="M17 3.34a10 10 0 1 1 -14.995 8.984l-.005 -.324l.005 -.324a10 10 0 0 1 14.995 -8.336zm-1.293 5.953a1 1 0 0 0 -1.32 -.083l-.094 .083l-3.293 3.292l-1.293 -1.292l-.094 -.083a1 1 0 0 0 -1.403 1.403l.083 .094l2 2l.094 .083a1 1 0 0 0 1.226 0l.094 -.083l4 -4l.083 -.094a1 1 0 0 0 -.083 -1.32z"/></svg></span></div><div class="tr"><span class="c c1">2025/10/23 03:55 PM</span><span class="c c2"><span class="bd br">Refresh dbt</span></span><span class="c c3">David Attenborough</span><span class="c c4">33</span><span class="c c5">429</span><span class="c c6">2082</span><span class="c c7"><svg width="16.7" height="16.7" viewBox="0 0 24 24" fill="#40c057" stroke="none"><path d="M17 3.34a10 10 0 1 1 -14.995 8.984l-.005 -.324l.005 -.324a10 10 0 0 1 14.995 -8.336zm-1.293 5.953a1 1 0 0 0 -1.32 -.083l-.094 .083l-3.293 3.292l-1.293 -1.292l-.094 -.083a1 1 0 0 0 -1.403 1.403l.083 .094l2 2l.094 .083a1 1 0 0 0 1.226 0l.094 -.083l4 -4l.083 -.094a1 1 0 0 0 -.083 -1.32z"/></svg></span></div><div class="tr"><span class="c c1">2025/10/23 03:55 PM</span><span class="c c2"><span class="bd br">Refresh dbt</span></span><span class="c c3">David Attenborough</span><span class="c c4">33</span><span class="c c5">429</span><span class="c c6">2082</span><span class="c c7"><svg width="16.7" height="16.7" viewBox="0 0 24 24" fill="#40c057" stroke="none"><path d="M17 3.34a10 10 0 1 1 -14.995 8.984l-.005 -.324l.005 -.324a10 10 0 0 1 14.995 -8.336zm-1.293 5.953a1 1 0 0 0 -1.32 -.083l-.094 .083l-3.293 3.292l-1.293 -1.292l-.094 -.083a1 1 0 0 0 -1.403 1.403l.083 .094l2 2l.094 .083a1 1 0 0 0 1.226 0l.094 -.083l4 -4l.083 -.094a1 1 0 0 0 -.083 -1.32z"/></svg></span></div><div class="tr"><span class="c c1">2025/10/23 03:53 PM</span><span class="c c2"><span class="bd br">Refresh dbt</span></span><span class="c c3">David Attenborough</span><span class="c c4">33</span><span class="c c5">429</span><span class="c c6">2082</span><span class="c c7"><svg width="16.7" height="16.7" viewBox="0 0 24 24" fill="#40c057" stroke="none"><path d="M17 3.34a10 10 0 1 1 -14.995 8.984l-.005 -.324l.005 -.324a10 10 0 0 1 14.995 -8.336zm-1.293 5.953a1 1 0 0 0 -1.32 -.083l-.094 .083l-3.293 3.292l-1.293 -1.292l-.094 -.083a1 1 0 0 0 -1.403 1.403l.083 .094l2 2l.094 .083a1 1 0 0 0 1.226 0l.094 -.083l4 -4l.083 -.094a1 1 0 0 0 -.083 -1.32z"/></svg></span></div><div class="tr"><span class="c c1">2025/10/23 02:24 PM</span><span class="c c2"><span class="bd br">Refresh dbt</span></span><span class="c c3">David Attenborough</span><span class="c c4">33</span><span class="c c5">429</span><span class="c c6">2082</span><span class="c c7"><svg width="16.7" height="16.7" viewBox="0 0 24 24" fill="#40c057" stroke="none"><path d="M17 3.34a10 10 0 1 1 -14.995 8.984l-.005 -.324l.005 -.324a10 10 0 0 1 14.995 -8.336zm-1.293 5.953a1 1 0 0 0 -1.32 -.083l-.094 .083l-3.293 3.292l-1.293 -1.292l-.094 -.083a1 1 0 0 0 -1.403 1.403l.083 .094l2 2l.094 .083a1 1 0 0 0 1.226 0l.094 -.083l4 -4l.083 -.094a1 1 0 0 0 -.083 -1.32z"/></svg></span></div>
      <div class="tf">Showing 18 of 18 logs</div>
    </div>
  </div>
</div>

</body></html>
